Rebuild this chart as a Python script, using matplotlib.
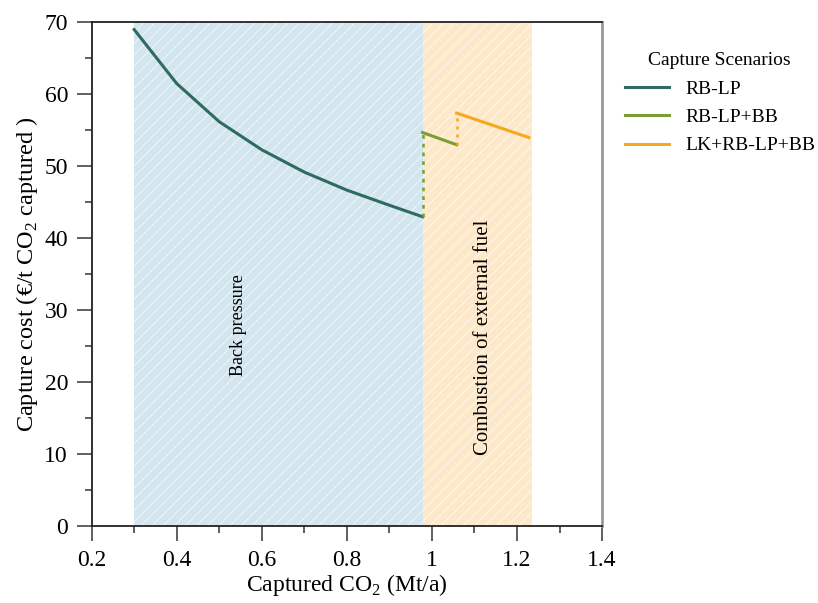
import numpy as np
import matplotlib
matplotlib.use('Agg')
import matplotlib.pyplot as plt
from matplotlib.ticker import MultipleLocator

# Data
RB_LP_X = [0.3, 0.4, 0.5, 0.6, 0.7, 0.8, 0.9, 0.978]
RB_LP_Y = [69.0, 61.5, 56.2, 52.3, 49.2, 46.7, 44.6, 43.0]

BB_X = [0.978, 1.058]
BB_Y = [54.7, 53.0]

LK_X = [1.058, 1.228]
LK_Y = [57.4, 54.0]

BACK_PRESSURE_SPAN = (0.3, 0.978)
EXTERNAL_FUEL_SPAN = (0.978, 1.236)

C_RBLP = '#2f6b5f'
C_BB = '#7a9e35'
C_LK = '#f6a81e'

plt.rcParams['font.family'] = ['Liberation Serif', 'DejaVu Serif']
plt.rcParams['mathtext.fontset'] = 'custom'
plt.rcParams['mathtext.rm'] = 'Liberation Serif'
plt.rcParams['hatch.linewidth'] = 0.6

fig = plt.figure(figsize=(8.18, 6.03), dpi=100)
ax = fig.add_axes([0.112, 0.127, 0.624, 0.836])

# shaded regions with white hatching
ax.axvspan(*BACK_PRESSURE_SPAN, facecolor='#d3e5ef', edgecolor='#f4f9fc', hatch='///', linewidth=0, zorder=0)
ax.axvspan(*EXTERNAL_FUEL_SPAN, facecolor='#fde8c9', edgecolor='#fffaf2', hatch='///', linewidth=0, zorder=0)

ax.plot(RB_LP_X, RB_LP_Y, color=C_RBLP, lw=2.2, label='RB-LP')
ax.plot(BB_X, BB_Y, color=C_BB, lw=2.2, label='RB-LP+BB')
ax.plot([BB_X[0], BB_X[0]], [RB_LP_Y[-1], BB_Y[0]], color=C_BB, lw=1.8, ls=(0, (1.5, 2)))
ax.plot(LK_X, LK_Y, color=C_LK, lw=2.2, label='LK+RB-LP+BB')
ax.plot([LK_X[0], LK_X[0]], [BB_Y[-1], LK_Y[0]], color=C_LK, lw=1.8, ls=(0, (1.2, 2)))

ax.text(0.545, 28.0, 'Back pressure', rotation=90, fontsize=13, ha='center', va='center')
ax.text(1.122, 26.2, 'Combustion of external fuel', rotation=90, fontsize=15, ha='center', va='center')

ax.set_xlim(0.2, 1.4)
ax.set_ylim(0, 70)
ax.xaxis.set_major_locator(MultipleLocator(0.2))
ax.xaxis.set_minor_locator(MultipleLocator(0.1))
ax.yaxis.set_major_locator(MultipleLocator(10))
ax.yaxis.set_minor_locator(MultipleLocator(5))
ax.set_xticks([0.2, 0.4, 0.6, 0.8, 1.0, 1.2, 1.4], ['0.2', '0.4', '0.6', '0.8', '1', '1.2', '1.4'])

ax.tick_params(which='major', direction='out', length=11, width=1.2, color='#444444', labelsize=17, pad=6)
ax.tick_params(which='minor', direction='out', length=5, width=1.2, color='#444444')
ax.tick_params(top=False, right=False, which='both')

for side in ['left', 'bottom', 'top']:
    ax.spines[side].set_color('#222222')
    ax.spines[side].set_linewidth(1.3)
ax.spines['right'].set_color('#999999')
ax.spines['right'].set_linewidth(2)

ax.set_xlabel('Captured CO$_2$ (Mt/a)', fontsize=17, labelpad=1)
ax.set_ylabel('Capture cost (€/t CO$_2$ captured )', fontsize=17.5, labelpad=3)

leg = ax.legend(loc='upper left', bbox_to_anchor=(1.01, 0.975), frameon=False,
                title='Capture Scenarios', fontsize=14, title_fontsize=14,
                handlelength=2.3, labelspacing=0.55)

fig.savefig('out.png', dpi=100)
